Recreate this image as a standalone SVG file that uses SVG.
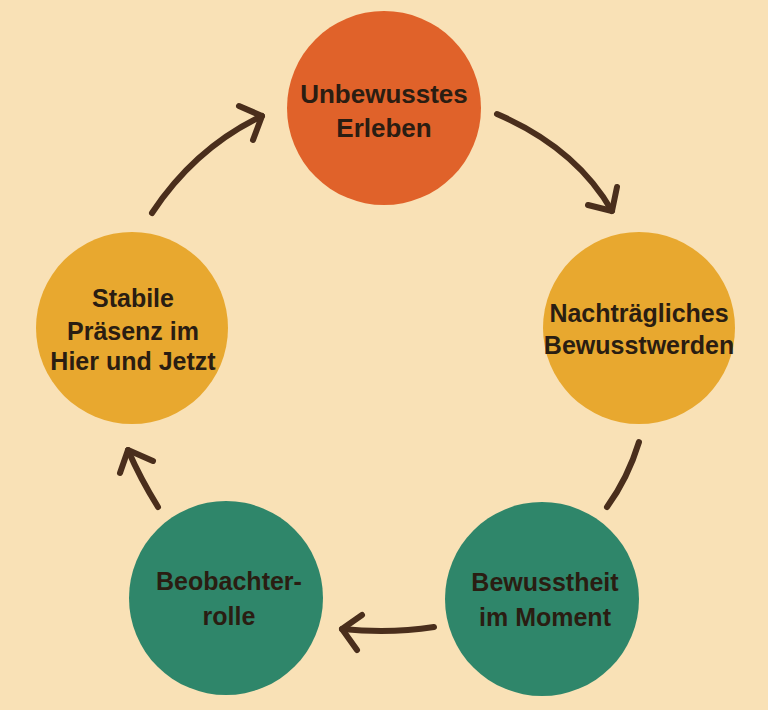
<svg xmlns="http://www.w3.org/2000/svg" width="768" height="710" viewBox="0 0 768 710">
<style>
.bg{fill:#f9e1b6}
.orange{fill:#e0622a}
.yellow{fill:#e8a82f}
.green{fill:#2f866a}
.lbl{font-family:"Liberation Sans",Arial,sans-serif;font-weight:bold;font-size:25px;fill:#2a1d12;text-anchor:middle}
.conn path{fill:none;stroke:#4a2e1c;stroke-width:6;stroke-linecap:round;stroke-linejoin:round}
</style>
<rect class="bg" x="0" y="0" width="768" height="710"/>
<g id="node-unbewusst">
<circle class="orange" cx="384" cy="108" r="97"/>
<text class="lbl" x="384" y="103" style="font-size:26px">Unbewusstes</text>
<text class="lbl" x="384" y="137" style="font-size:26px">Erleben</text>
</g>
<g id="node-nachtraeglich">
<circle class="yellow" cx="639" cy="328" r="96"/>
<text class="lbl" x="639" y="322">Nachträgliches</text>
<text class="lbl" x="639" y="354">Bewusstwerden</text>
</g>
<g id="node-bewusstheit">
<circle class="green" cx="542" cy="599" r="97"/>
<text class="lbl" x="545" y="591">Bewusstheit</text>
<text class="lbl" x="545" y="626">im Moment</text>
</g>
<g id="node-beobachter">
<circle class="green" cx="226" cy="598" r="97"/>
<text class="lbl" x="229" y="590">Beobachter-</text>
<text class="lbl" x="229" y="625">rolle</text>
</g>
<g id="node-stabil">
<circle class="yellow" cx="132" cy="328" r="96"/>
<text class="lbl" x="133" y="307">Stabile</text>
<text class="lbl" x="133" y="340">Präsenz im</text>
<text class="lbl" x="133" y="370">Hier und Jetzt</text>
</g>
<g id="connectors" class="conn">
<path d="M152,213 Q195,148 262,116"/>
<path d="M239,106 L262,116 L253,140"/>
<path d="M497,114 Q576,148 612,211"/>
<path d="M617,187 L612,211 L588,205"/>
<path d="M639,442 Q628,478 607,507"/>
<path d="M434,627 Q390,634 342,629"/>
<path d="M362,615 L342,629 L357,650"/>
<path d="M158,507 Q140,478 128,450"/>
<path d="M120,473 L128,450 L153,461"/>
</g>
</svg>
